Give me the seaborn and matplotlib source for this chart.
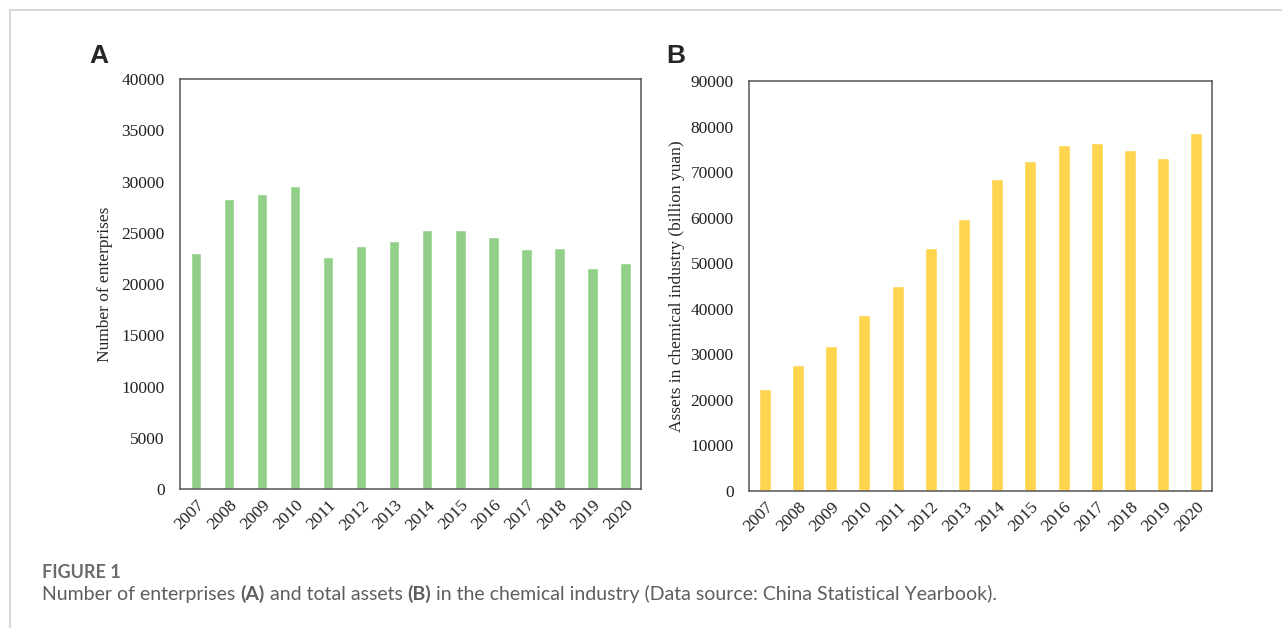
import matplotlib
matplotlib.use('Agg')
import matplotlib.pyplot as plt
import seaborn as sns
from matplotlib.lines import Line2D

years = ['2007', '2008', '2009', '2010', '2011', '2012', '2013',
         '2014', '2015', '2016', '2017', '2018', '2019', '2020']
enterprises = [23000, 28270, 28830, 29540, 22600, 23710, 24230,
               25280, 25280, 24630, 23390, 23520, 21600, 22020]
assets = [22400, 27550, 31740, 38720, 44900, 53270, 59590,
          68400, 72520, 75970, 76340, 74800, 73100, 78540]

green = '#92d08a'
yellow = '#ffd44f'

sns.set_style('white')
plt.rcParams['font.family'] = ['Liberation Serif', 'DejaVu Serif']

fig = plt.figure(figsize=(12.82, 6.28), dpi=100)
axA = fig.add_axes([0.1404, 0.2213, 0.3596, 0.6529])
axB = fig.add_axes([0.5842, 0.2182, 0.3612, 0.6529])

sns.barplot(x=years, y=enterprises, color=green, saturation=1, width=0.32, ax=axA)
sns.barplot(x=years, y=assets, color=yellow, saturation=1, width=0.36, ax=axB)

axA.set_ylim(0, 40000)
axA.set_yticks(range(0, 40001, 5000))
axA.set_ylabel('Number of enterprises', fontsize=12.5, labelpad=6)
axB.set_ylim(0, 90000)
axB.set_yticks(range(0, 90001, 10000))
axB.set_ylabel('Assets in chemical industry (billion yuan)', fontsize=12.5, labelpad=4)

for ax in (axA, axB):
    ax.set_xlim(-0.48, 13.47)
    ax.set_xlabel('')
    ax.tick_params(length=0, labelsize=12.5, colors='#222222')
    ax.tick_params(axis='y', pad=11)
    ax.tick_params(axis='x', pad=6)
    for lab in ax.get_xticklabels():
        lab.set_rotation(45)
        lab.set_ha('right')
        lab.set_rotation_mode('anchor')
    for sp in ax.spines.values():
        sp.set_visible(True)
        sp.set_color('#555555')
        sp.set_linewidth(1.1)

# panel letters
fig.text(0.070, 0.8997, 'A', fontsize=19, fontweight='bold', family='Liberation Sans')
fig.text(0.520, 0.8997, 'B', fontsize=19, fontweight='bold', family='Liberation Sans')

# frame lines
fig.add_artist(Line2D([10 / 1282, 1], [1 - 10 / 628, 1 - 10 / 628], color='#d4d4d4', lw=1.3))
fig.add_artist(Line2D([10 / 1282, 10 / 1282], [0, 1 - 10 / 628], color='#d4d4d4', lw=1.3))

# caption
fig.text(0.0328, 0.0796, 'FIGURE 1', fontsize=13, fontweight='bold', family='Lato', color='#6b6b6b')
pieces = [('Number of enterprises ', 'normal'), ('(A)', 'bold'),
          (' and total assets ', 'normal'), ('(B)', 'bold'),
          (' in the chemical industry (Data source: China Statistical Yearbook).', 'normal')]
renderer = fig.canvas.get_renderer()
x = 0.0328
for txt, w in pieces:
    t = fig.text(x, 0.044, txt, fontsize=14, fontweight=w, family='Lato', color='#5e5e5e')
    bb = t.get_window_extent(renderer=renderer)
    x += bb.width / fig.bbox.width

fig.savefig('out.png', dpi=100)
